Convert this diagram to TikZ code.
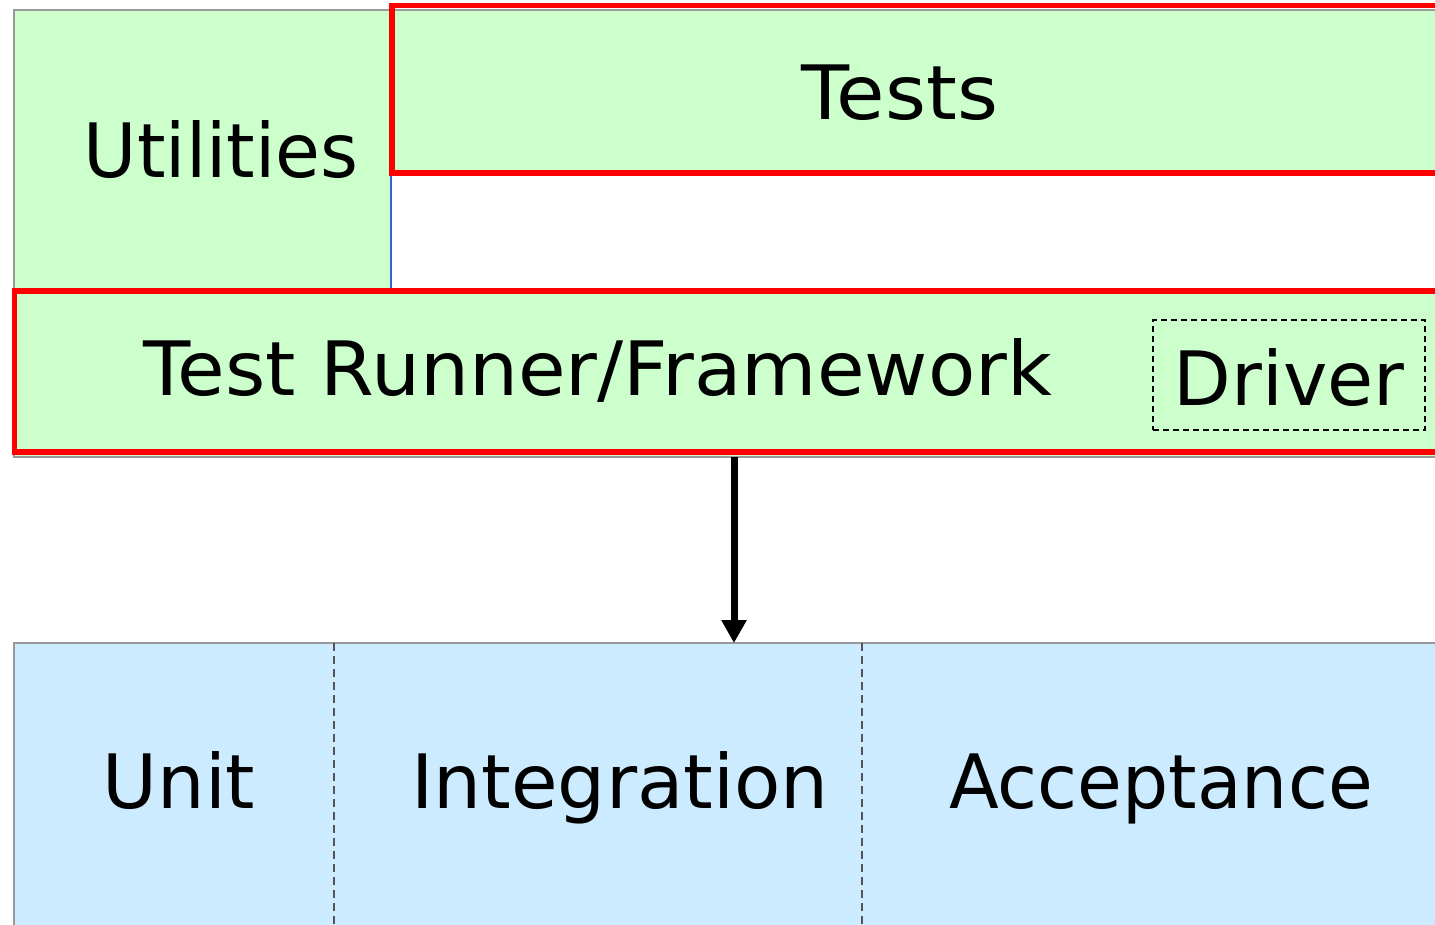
\documentclass[tikz,border=0pt]{standalone}
\usepackage{fontspec}
\setmainfont{DejaVu Sans}
\usetikzlibrary{arrows.meta}
\definecolor{boxgreen}{HTML}{CCFFCC}
\definecolor{laneblue}{HTML}{CCEBFF}
\definecolor{edgegray}{HTML}{999999}
\definecolor{hilite}{HTML}{FF0000}
\definecolor{edgeblue}{HTML}{3366CC}
\definecolor{dashgray}{HTML}{555555}

\begin{document}
\begin{tikzpicture}[x=1pt,y=-1pt,
  base/.style={draw=edgegray, line width=1.5pt, inner sep=0pt, outer sep=0pt, anchor=north west},
  greenbox/.style={base, fill=boxgreen},
  bluebox/.style={base, fill=laneblue},
  redframe/.style={draw=hilite, line width=5.5pt, inner sep=0pt, outer sep=0pt, anchor=north west},
  dashbox/.style={draw=black, line width=2pt, dash pattern=on 6pt off 4pt, inner sep=0pt, anchor=north west},
  caption/.style={font=\fontsize{75}{90}\selectfont, anchor=base, inner sep=0pt, transform shape, xscale=#1},
  caption/.default=1,
  divider/.style={draw=dashgray, line width=1.5pt, dash pattern=on 8pt off 5pt},
  flow/.style={line width=7pt, -{Triangle[width=24pt,length=23pt]}}]

\useasboundingbox (0,0) rectangle (1435,925);
\clip (0,0) rectangle (1435,925);
\fill[white] (0,0) rectangle (1435,925);

% upper layer: utilities beside the tests
\node[greenbox, minimum width=377pt, minimum height=281pt] (utilities) at (14,10) {};
\draw[edgeblue, line width=1.5pt] (utilities.north east) -- (utilities.south east);
\node[greenbox, minimum width=1080pt, minimum height=163pt] (tests) at (391,10) {};
\node[redframe, minimum width=1080pt, minimum height=167.5pt] (testsframe) at (392,5.5) {};

% framework layer with the driver
\node[greenbox, minimum width=1440pt, minimum height=166pt] (runner) at (14,291) {};
\node[redframe, minimum width=1440pt, minimum height=161pt] (runnerframe) at (14.5,291) {};
\node[dashbox, minimum width=272pt, minimum height=110pt] (driver) at (1152,319) {};

% kinds of tests
\node[bluebox, minimum width=1440pt, minimum height=300pt] (lanes) at (14,643) {};
\coordinate (split1) at (334,643);
\coordinate (split2) at (862,643);
\draw[divider] (split1) -- (split1 |- lanes.south);
\draw[divider] (split2) -- (split2 |- lanes.south);

% the runner drives the tests
\coordinate (flowx) at (734,0);
\draw[flow] (runner.south -| flowx) -- (lanes.north -| flowx);

% captions
\node[caption=0.972] (utilitiesText) at (221,178) {Utilities};
\node[caption=1.05] (testsText) at (900,120) {Tests};
\node[caption=1.032] (runnerText) at (598,395) {Test Runner/Framework};
\node[caption] (driverText) at (1289,405) {Driver};
\node[caption] (unitText) at (179,808) {Unit};
\node[caption=1.01] (integrationText) at (620,808) {Integration};
\node[caption=0.97] (acceptanceText) at (1161,808) {Acceptance};
\end{tikzpicture}
\end{document}
